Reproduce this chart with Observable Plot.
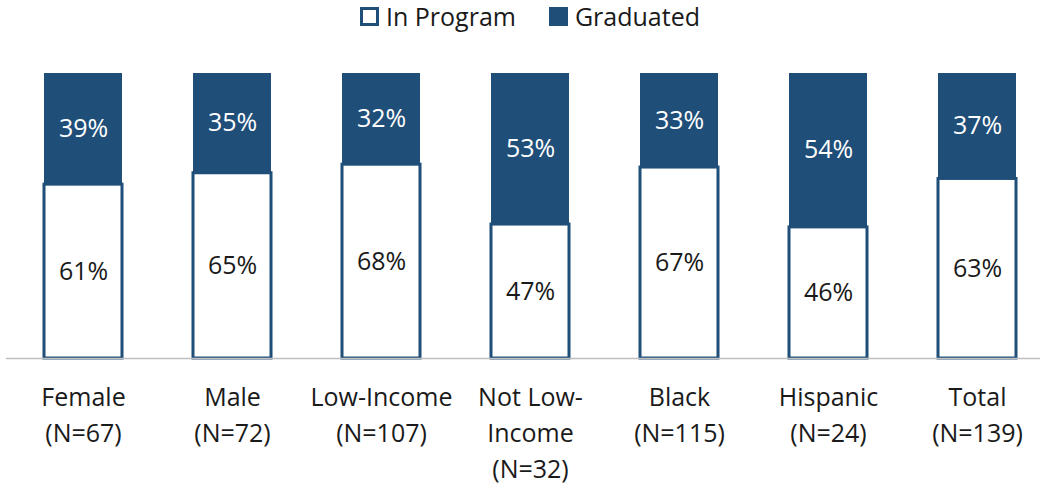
<!DOCTYPE html>
<html>
<head>
<meta charset="utf-8">
<script src="https://cdn.jsdelivr.net/npm/d3@7"></script>
<script src="https://cdn.jsdelivr.net/npm/@observablehq/plot@0.6"></script>
<style>
  html, body { margin: 0; padding: 0; background: #fff; }
  body { width: 1040px; height: 487px; overflow: hidden; font-family: "Open Sans", sans-serif; }
  #legend { height: 35px; display: flex; justify-content: center; align-items: center; font-size: 25px; color: #1a1a1a; padding-left: 20px; box-sizing: border-box; }
  .item { display: flex; align-items: center; margin-top: -3px; }
  .sw { width: 19px; height: 19px; box-sizing: border-box; margin-right: 7px; }
  #chart svg { display: block; }
</style>
</head>
<body>
<div id="legend"></div>
<div id="chart"></div>
<script>
const categories = ["Female", "Male", "Low-Income", "Not Low-Income", "Black", "Hispanic", "Total"];
const tickLabels = ["Female\n(N=67)", "Male\n(N=72)", "Low-Income\n(N=107)", "Not Low-\nIncome\n(N=32)", "Black\n(N=115)", "Hispanic\n(N=24)", "Total\n(N=139)"];
const inProgram = [61, 65, 68, 47, 67, 46, 63];
const graduated = [39, 35, 32, 53, 33, 54, 37];
const seriesNames = ["In Program", "Graduated"];

const blue = "#1f4e79";

const rows = categories.map((c, i) => ({
  cat: c,
  inProg: inProgram[i],
  grad: graduated[i],
  total: inProgram[i] + graduated[i]
}));

const legend = document.getElementById("legend");
legend.innerHTML = `
  <div class="item" style="margin-right:33px"><div class="sw" style="background:#fff;border:3px solid ${blue}"></div>${seriesNames[0]}</div>
  <div class="item"><div class="sw" style="background:${blue}"></div>${seriesNames[1]}</div>`;

const labelMap = new Map(categories.map((c, i) => [c, tickLabels[i]]));

const chart = Plot.plot({
  width: 1040,
  height: 452,
  marginTop: 38,
  marginBottom: 129,
  marginLeft: 6,
  marginRight: 0,
  style: { fontFamily: "Open Sans, sans-serif", background: "#fff" },
  x: { domain: categories, range: [42, 1017], paddingInner: 0.478, paddingOuter: 0, axis: null },
  y: { domain: [0, 100], axis: null },
  marks: [
    Plot.barY(rows, { x: "cat", y1: "inProg", y2: "total", fill: blue }),
    Plot.barY(rows, { x: "cat", y1: 0, y2: "inProg", fill: "#fff", stroke: blue, strokeWidth: 3 }),
    Plot.ruleY([0], { stroke: "#bfbfbf", strokeWidth: 1.5 }),
    Plot.text(rows, { x: "cat", y: d => d.inProg + d.grad / 2, text: d => d.grad + "%", fill: "#fff", fontSize: 25 }),
    Plot.text(rows, { x: "cat", y: d => d.inProg / 2, text: d => d.inProg + "%", fill: "#1a1a1a", fontSize: 25 }),
    Plot.axisX({ tickSize: 0, tickPadding: 22, tickFormat: d => labelMap.get(d), fontSize: 25, lineHeight: 1.44, fill: "#1a1a1a", label: null })
  ]
});
document.getElementById("chart").appendChild(chart);
</script>
</body>
</html>
